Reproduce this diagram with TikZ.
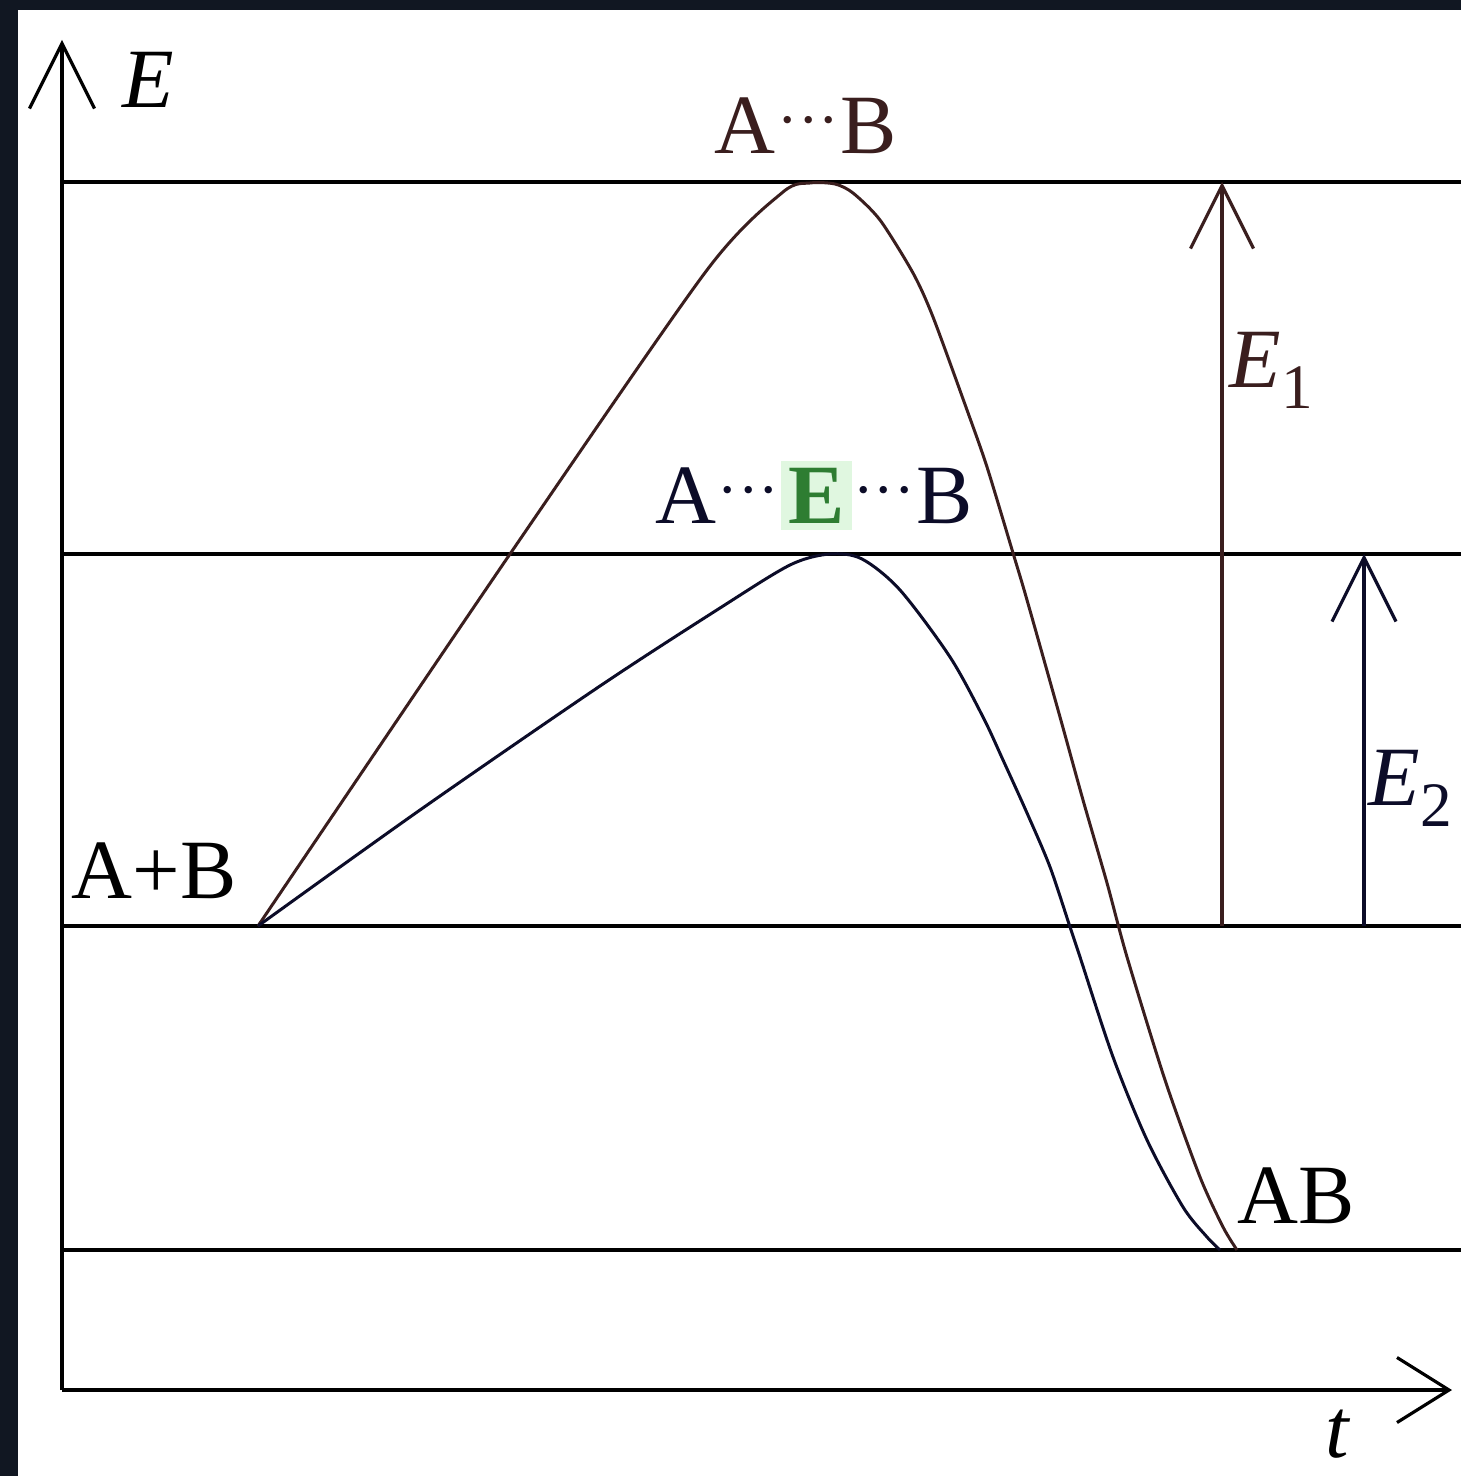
\documentclass[tikz,border=0pt]{standalone}
\usepackage{fontspec}
\setmainfont{Liberation Serif}
\usetikzlibrary{arrows.meta}
\definecolor{framec}{HTML}{111722}
\definecolor{redc}{HTML}{3A1E1E}
\definecolor{bluec}{HTML}{0C0C28}
\definecolor{greenc}{HTML}{2E7D32}
\definecolor{glowc}{HTML}{E0F7E0}
\newcommand{\mdots}{\raisebox{3.6pt}{\fontsize{17.5pt}{17.5pt}\selectfont\kern0.5pt\char"00B7\char"00B7\char"00B7\kern0.5pt}}
\tikzset{
  level/.style={line width=1.4pt, black},
  axisline/.style={line width=1.4pt, black, -{Straight Barb[length=6.5mm,width=6.5mm,line width=0.9pt]}},
  xaxisline/.style={line width=1.4pt, black, -{Straight Barb[length=5.2mm,width=6.5mm,line width=0.9pt]}},
  redcurve/.style={line width=0.85pt, redc},
  bluecurve/.style={line width=0.85pt, bluec},
  earrowR/.style={line width=1.1pt, redc, -{Straight Barb[length=6.3mm,width=6.3mm,line width=0.9pt]}},
  earrowB/.style={line width=1.2pt, bluec, -{Straight Barb[length=6.4mm,width=6.4mm,line width=0.9pt]}},
  lab/.style={inner sep=0pt, font=\fontsize{24pt}{29pt}\selectfont},
}
\begin{document}
\begin{tikzpicture}[x=0.01cm,y=-0.01cm]
\fill[framec] (0,0) rectangle (1461,1476);
\fill[white] (18,10) rectangle (1461,1476);
\useasboundingbox (0,0) rectangle (1461,1476);
\clip (0,0) rectangle (1461,1476);

% energy levels
\foreach \yy in {182,554,926,1250} \draw[level] (62,\yy) -- (1461,\yy);

% axes
\coordinate (O) at (62,1390);
\coordinate (Ytop) at (62,40);
\coordinate (Xend) at (1452,1390);
\draw[axisline] (O) -- (Ytop);
\draw[xaxisline] (O) -- (Xend);

% uncatalysed path
\draw[redcurve] plot[smooth, tension=0.45] coordinates {
 (258,926) (510,554) (707,270) (783,192) (810,183) (835,184) (853,193)
 (880,220) (913,273) (933,317) (967,410) (987,467) (1013,553) (1027,600)
 (1060,717) (1083,800) (1107,883) (1127,957) (1165,1080)
 (1200,1177) (1223,1227) (1237,1250)};

% catalysed path
\draw[bluecurve] plot[smooth, tension=0.5] coordinates {
 (258,926) (420,810) (600,686) (720,608) (790,565) (830,554) (862,559)
 (900,590) (950,657) (983,717) (1003,760) (1027,813) (1050,867) (1070,927)
 (1080,957) (1113,1057) (1147,1140) (1183,1207) (1207,1237) (1220,1250)};

% activation energy arrows
\coordinate (e1b) at (1222,926);
\coordinate (e1t) at (1222,182);
\draw[earrowR] (e1b) -- (e1t);
\coordinate (e2b) at (1364,926);
\coordinate (e2t) at (1364,554);
\draw[earrowB] (e2b) -- (e2t);

% labels
\node[lab, anchor=base] (Elab) at (148,108) {\textit{E}};
\node[lab, anchor=base] (tlab) at (1338,1457) {\textit{t}};
\node[lab, anchor=base, text=redc] (TS1) at (806,153) {A\mdots B};
\node[lab, anchor=base, text=bluec] (TS2) at (814,523)
  {A\mdots{\setlength{\fboxsep}{2pt}\colorbox{glowc}{\color{greenc}\textbf{E}}}\mdots B};
\node[lab, anchor=base] (AB1) at (154,898) {A+B};
\node[lab, anchor=base] (AB2) at (1296,1223) {AB};
\node[lab, anchor=base west, text=redc] (E1) at (1229,387)
  {\textit{E}\raisebox{-0.25em}{\fontsize{18pt}{18pt}\selectfont 1}};
\node[lab, anchor=base west, text=bluec] (E2) at (1368,805)
  {\textit{E}\raisebox{-0.25em}{\fontsize{18pt}{18pt}\selectfont 2}};
\end{tikzpicture}
\end{document}
